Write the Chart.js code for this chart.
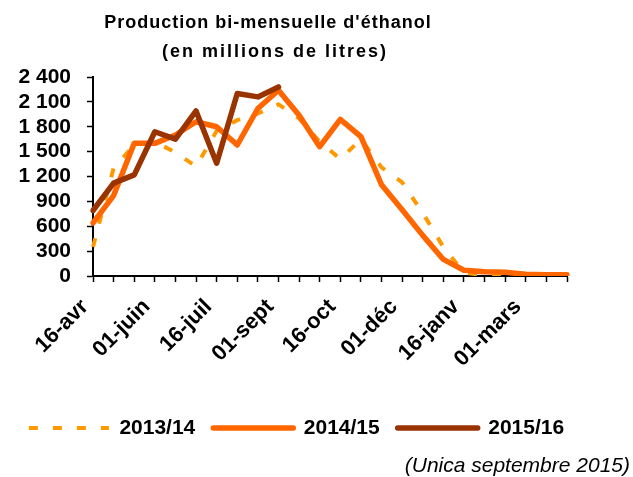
<!DOCTYPE html>
<html lang="fr">
  <head>
    <meta charset="UTF-8" />
    <title>Production bi-mensuelle d'éthanol</title>
    <style>
      body {
        margin: 0;
        padding: 0;
        background-color: white;
      }
      .chart-container {
        width: 633px;
        height: 477px;
      }
    </style>
  </head>
  <body>
    <div class="chart-container">
      <canvas id="myChart" width="633" height="477"></canvas>
    </div>
    <script src="https://cdn.jsdelivr.net/npm/chart.js@4.4.1/dist/chart.umd.min.js"></script>
    <script>
      const periods = [
        "16-avr", "01-mai", "16-mai", "01-juin", "16-juin", "01-juil",
        "16-juil", "01-août", "16-août", "01-sept", "16-sept", "01-oct",
        "16-oct", "01-nov", "16-nov", "01-déc", "16-déc", "01-janv",
        "16-janv", "01-févr", "16-févr", "01-mars", "16-mars", "01-avr",
      ];
      const shownEvery = 3;
      const yTicks = [0, 300, 600, 900, 1200, 1500, 1800, 2100, 2400];

      const season1314 = [
        350, 1300, 1580, 1620, 1490, 1320, 1750, 1880, 1960, 2070, 1900, 1620,
        1410, 1650, 1310, 1130, 760, 350, 40, 10, 5, 0, 0, 0,
      ];
      const season1415 = [
        640, 970, 1600, 1600, 1700, 1860, 1800, 1580, 2020, 2240, 1940, 1560,
        1890, 1680, 1100, 800, 490, 200, 70, 50, 45, 20, 15, 15,
      ];
      const season1516 = [
        790, 1120, 1220, 1740, 1650, 1990, 1360, 2200, 2160, 2280,
      ];

      const seriesNames = ["2013/14", "2014/15", "2015/16"];
      const titleLines = [
        "Production bi-mensuelle d'éthanol",
        "(en millions de litres)",
      ];
      const sourceNote = "(Unica septembre 2015)";

      const FONT = '"Liberation Sans", Arial, sans-serif';

      // title and source drawn straight on the canvas
      const textBits = {
        id: "textBits",
        afterDraw(chart) {
          const ctx = chart.ctx;
          ctx.save();
          ctx.fillStyle = "#000";
          ctx.textAlign = "center";
          ctx.textBaseline = "middle";
          ctx.font = "bold 18px " + FONT;
          ctx.letterSpacing = "1px";
          ctx.fillText(titleLines[0], 268, 23);
          ctx.letterSpacing = "2px";
          ctx.fillText(titleLines[1], 275, 52);
          ctx.letterSpacing = "0px";
          ctx.textAlign = "right";
          ctx.font = "italic 21px " + FONT;
          ctx.fillText(sourceNote, 630, 466);
          ctx.restore();
        },
      };

      const fmt = (v) => String(v).replace(/\B(?=(\d{3})+(?!\d))/g, " ");

      const data = {
        labels: periods,
        datasets: [
          {
            label: seriesNames[0],
            data: season1314,
            borderColor: "#FF9900",
            borderWidth: 4,
            borderDash: [9, 15],
            borderCapStyle: "butt",
            order: 3,
          },
          {
            label: seriesNames[1],
            data: season1415,
            borderColor: "#FF6600",
            borderWidth: 5.5,
            borderCapStyle: "round",
            order: 2,
          },
          {
            label: seriesNames[2],
            data: season1516,
            borderColor: "#993300",
            borderWidth: 5.5,
            borderCapStyle: "round",
            order: 1,
          },
        ],
      };

      const config = {
        type: "line",
        data: data,
        options: {
          responsive: false,
          animation: false,
          devicePixelRatio: 1,
          layout: {
            padding: { left: 0, right: 40, top: 77, bottom: 28.5 },
          },
          elements: {
            point: { radius: 0 },
            line: { tension: 0, borderJoinStyle: "round", fill: false },
          },
          plugins: {
            title: { display: false },
            tooltip: { enabled: false },
            legend: {
              position: "bottom",
              labels: {
                usePointStyle: true,
                pointStyle: "line",
                pointStyleWidth: 80,
                padding: 18,
                color: "#000",
                font: { family: FONT, size: 21, weight: "bold" },
                generateLabels: (chart) =>
                  chart.data.datasets.map((ds, i) => ({
                    text: ds.label,
                    datasetIndex: i,
                    hidden: false,
                    pointStyle: "line",
                    strokeStyle: ds.borderColor,
                    fillStyle: ds.borderColor,
                    lineWidth: ds.borderWidth,
                    lineDash: ds.borderDash || [],
                    lineCap: ds.borderCapStyle,
                  })),
              },
            },
          },
          scales: {
            x: {
              type: "category",
              offset: false,
              grid: {
                drawOnChartArea: false,
                offset: false,
                tickLength: 6,
                tickColor: "#000",
                tickWidth: 1.5,
              },
              border: { display: true, color: "#000", width: 2 },
              ticks: {
                autoSkip: false,
                maxRotation: 45,
                minRotation: 45,
                padding: 12,
                labelOffset: -8,
                color: "#000",
                font: { family: FONT, size: 22, weight: "bold" },
                callback: (v, i) => (i % shownEvery === 0 ? periods[i] : ""),
              },
              afterFit: (scale) => {
                scale.height = 123.5;
                scale.paddingLeft = 0;
                scale.paddingRight = 66;
              },
            },
            y: {
              min: yTicks[0],
              max: yTicks[yTicks.length - 1],
              grid: {
                drawOnChartArea: false,
                tickLength: 6,
                tickColor: "#000",
                tickWidth: 1.5,
              },
              border: { display: true, color: "#000", width: 2 },
              afterBuildTicks: (scale) => {
                scale.ticks = yTicks.map((v) => ({ value: v }));
              },
              ticks: {
                autoSkip: false,
                padding: 16,
                color: "#000",
                font: { family: FONT, size: 21, weight: "bold" },
                callback: (v) => fmt(v),
              },
              afterFit: (scale) => {
                scale.width = 93;
              },
            },
          },
        },
        plugins: [textBits],
      };

      const ctx = document.getElementById("myChart").getContext("2d");
      const myChart = new Chart(ctx, config);
    </script>
  </body>
</html>
